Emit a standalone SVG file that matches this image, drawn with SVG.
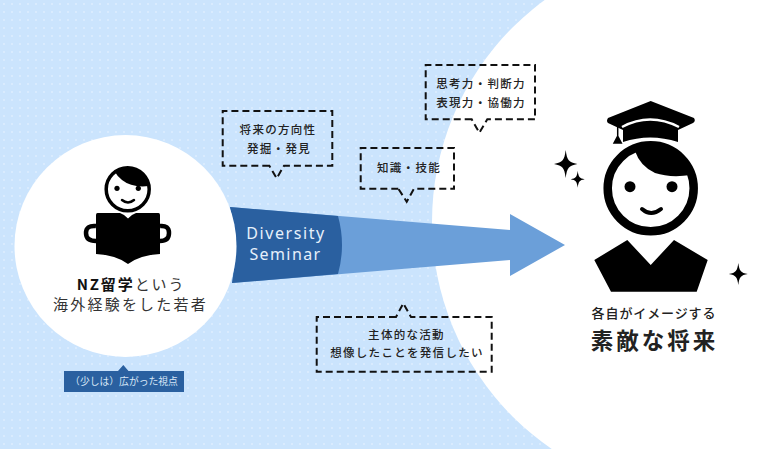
<svg xmlns="http://www.w3.org/2000/svg" width="773" height="449" viewBox="0 0 773 449">
<defs>
<pattern id="dots" width="8" height="8" patternUnits="userSpaceOnUse"><rect x="3" y="3" width="2" height="2" fill="#d9ebfe"/></pattern>
<path id="spark" d="M0-1C.12-.25.25-.12 1 0C.25.12.12.25 0 1C-.12.25-.25.12-1 0C-.25-.12-.12-.25 0-1Z"/>
</defs>
<style>
text{font-family:"Noto Sans CJK JP","Liberation Sans",sans-serif;fill:#222;text-anchor:middle}
.c{font-size:11.5px;letter-spacing:1.3px;font-weight:500}
.m{font-size:15px;letter-spacing:2.2px;fill:#333}
.l{font-family:"Noto Sans","Liberation Sans",sans-serif;font-size:16px;fill:#e6f0fb}
.d{fill:none;stroke:#111;stroke-width:2;stroke-dasharray:7 4}
.k{fill:#000}
</style>
<rect width="773" height="449" fill="#cbe4fd"/>
<rect width="773" height="449" fill="url(#dots)"/>
<circle cx="707" cy="222" r="275" fill="#fff"/>
<rect x="707" width="66" height="449" fill="#fff"/>
<g id="connectors">
<path d="M230 207L510 230V214L565 245L510 276V260L232 283Q239 245 230 207Z" fill="#6b9fd9"/>
<path d="M230 207L338 216Q346 245 338 274L232 283Q239 245 230 207Z" fill="#2a60a0"/>
<text class="l" x="286" y="239" style="letter-spacing:1.600px">Diversity</text>
<text class="l" x="285.500" y="260" style="letter-spacing:1.400px">Seminar</text>
</g>
<g id="node-student">
<circle cx="125.500" cy="246" r="111" fill="#fff"/>
<circle cx="127.700" cy="189.300" r="21.500" fill="#fff" stroke="#000" stroke-width="3.500"/>
<path class="k" d="M115 172A21.500 21.500 0 0 1 149 186Q132 188 122 180Q117 176 115 172Z"/>
<circle class="k" cx="117" cy="188.300" r="2.600"/><circle class="k" cx="138.300" cy="188.300" r="2.600"/>
<path d="M122 200Q128 205 134 200" fill="none" stroke="#000" stroke-width="2.500" stroke-linecap="round"/>
<path d="M97.500 213H120Q124 214 128 218.500Q132 214 136 213H158.500Q160 213 160 215V254Q140 255 128 264Q116 255 96 254V215Q96 213 97.500 213Z" class="k"/>
<path d="M96 226Q86 225 86 233Q86 241 96 241M160 226Q169 225 169 233Q169 241 160 241" fill="none" stroke="#000" stroke-width="4.500"/>
<text x="131" y="290" style="font-size:15px;letter-spacing:1.900px;fill:#333"><tspan font-weight="700" fill="#111">NZ留学</tspan>という</text>
<text class="m" x="130.500" y="310">海外経験をした若者</text>
</g>
<g id="node-viewpoint">
<path d="M64 371H118L123.300 365L128.500 371H184V392H64Z" fill="#2a60a0"/>
<text x="124" y="385" style="font-size:9.800px;fill:#d8e7f7">（少しは）広がった視点</text>
</g>
<g id="node-graduate">
<path class="k" d="M650.700 101L694 118Q696 121 693 123L678 130V142Q650 133 623 142V130L608 123Q606 121 608 118Z"/>
<path d="M622 127Q650 112 679 127" fill="none" stroke="#fff" stroke-width="2.500"/>
<path d="M617.700 124V143M617.700 136L614 143H621.300Z" fill="#000" stroke="#000" stroke-width="1.500"/>
<circle cx="650.700" cy="188.300" r="43" fill="#fff" stroke="#000" stroke-width="8.500"/>
<path class="k" d="M635 151Q655 137 675 152Q687 162 691 175Q670 178 655 173Q640 166 635 151Z"/>
<circle class="k" cx="630" cy="186.700" r="5.500"/><circle class="k" cx="672" cy="186.700" r="5.500"/>
<path d="M642 209Q651 217 661 209" fill="none" stroke="#000" stroke-width="4" stroke-linecap="round"/>
<path class="k" d="M627.300 240L650.700 265L674 240L707.700 260L696.700 291.700H611L594.300 260Z"/>
<use href="#spark" transform="translate(565.700 164) scale(11.700 14)"/>
<use href="#spark" transform="translate(577.700 179.300) scale(7 8.500)"/>
<use href="#spark" transform="translate(738.300 274) scale(9.500 11)"/>
<text x="654" y="318" style="font-size:13px;letter-spacing:.9px;font-weight:500">各自がイメージする</text>
<text x="654.500" y="349" style="font-size:22.500px;letter-spacing:3px;font-weight:700">素敵な将来</text>
</g>
<g id="node-callout-1">
<path class="d" d="M269.300 165.700H222.700V111H332.300V165.700H284L276.700 178.300Z"/>
<text class="c" x="278" y="134">将来の方向性</text>
<text class="c" x="279" y="152.500">発掘・発見</text>
</g>
<g id="node-callout-2">
<path class="d" d="M398.300 188.700H360.700V148H454V188.700H414L406.700 201.700Z"/>
<text class="c" x="409" y="172">知識・技能</text>
</g>
<g id="node-callout-3">
<path class="d" d="M471.700 119.300H425.700V65H535V119.300H487.300L479.300 132.700Z"/>
<text class="c" x="481" y="88">思考力・判断力</text>
<text class="c" x="481" y="106.500">表現力・協働力</text>
</g>
<g id="node-callout-4">
<path class="d" d="M396 317H316.700V371.700H491.700V317H411L403.300 303.300Z"/>
<text class="c" x="406.500" y="339">主体的な活動</text>
<text class="c" x="407" y="357">想像したことを発信したい</text>
</g>
</svg>
